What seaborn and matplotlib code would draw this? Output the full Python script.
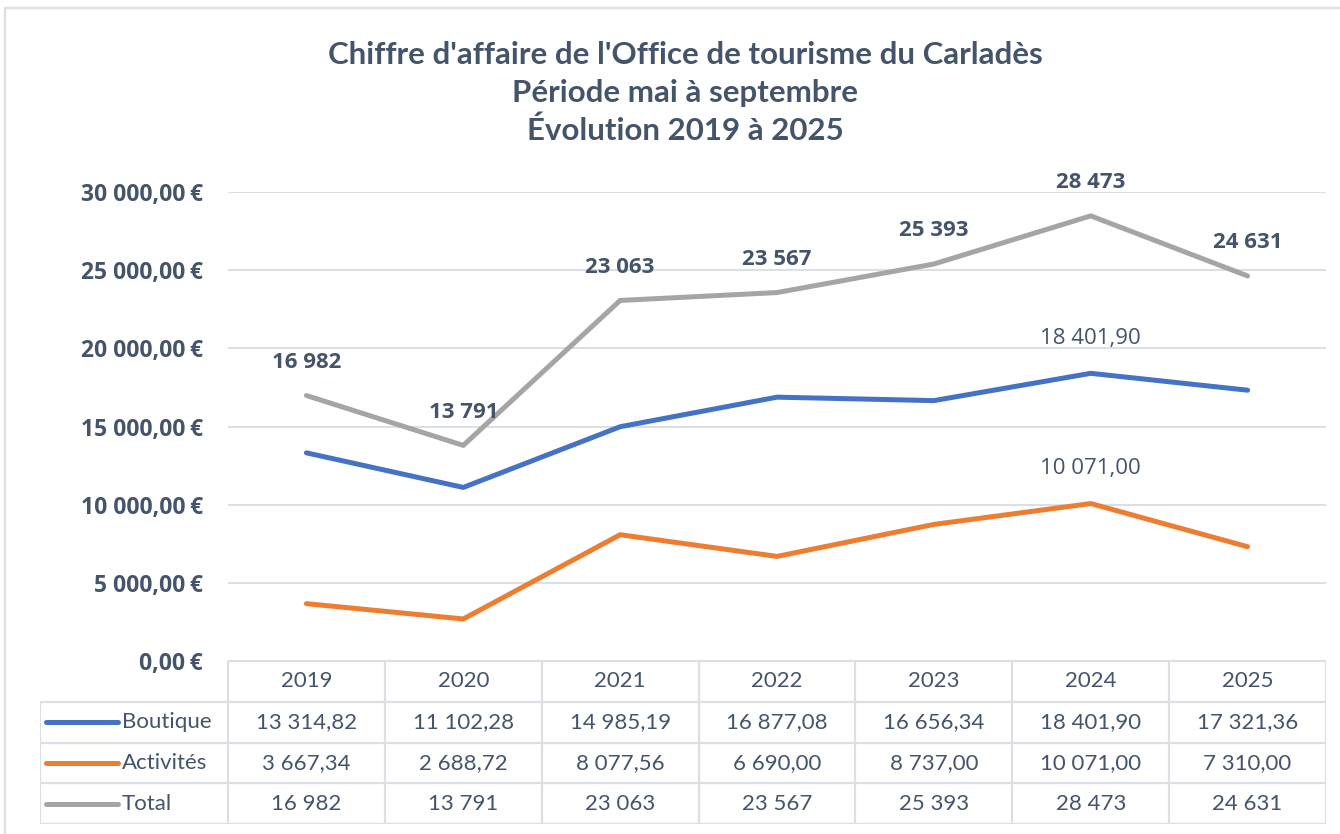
import pandas as pd
import matplotlib.pyplot as plt
import seaborn as sns
from matplotlib.ticker import FuncFormatter
from matplotlib.patches import Rectangle

# data
years = [2019, 2020, 2021, 2022, 2023, 2024, 2025]
boutique = [13314.82, 11102.28, 14985.19, 16877.08, 16656.34, 18401.90, 17321.36]
activites = [3667.34, 2688.72, 8077.56, 6690.00, 8737.00, 10071.00, 7310.00]
total = [16982, 13791, 23063, 23567, 25393, 28473, 24631]
series_names = ['Boutique', 'Activités', 'Total']
colors = ['#4472C4', '#ED7D31', '#A5A5A5']

TXT = '#44546A'
GRID = '#DCE0E6'
SANS = ['Open Sans', 'DejaVu Sans']
NARROW = ['Lato', 'DejaVu Sans']

sns.set_style('white')
plt.rcParams['font.family'] = SANS


def fr(v, dec=2):
    s = f"{v:,.{dec}f}"
    return s.replace(',', ' ').replace('.', ',')


df = pd.DataFrame({'Année': years, 'Boutique': boutique,
                   'Activités': activites, 'Total': total})
long = df.melt(id_vars='Année', var_name='Série', value_name='Montant')

fig = plt.figure(figsize=(13.4, 8.34), dpi=100)
fig.patches.append(Rectangle((5 / 1340, -0.1), 1.2, 1 - 8 / 834 + 0.1,
                             transform=fig.transFigure, fill=False,
                             edgecolor=GRID, linewidth=1.6))

W, H = 1340, 834
ax = fig.add_axes([228 / W, (H - 661) / H, (1326 - 228) / W, (661 - 192) / H])
sns.lineplot(data=long, x='Année', y='Montant', hue='Série',
             hue_order=series_names, palette=colors, linewidth=3.6,
             legend=False, ax=ax, solid_capstyle='round', zorder=3)
ax.set_xlim(years[0] - 0.5, years[-1] + 0.5)
ax.set_ylim(0, 30000)
ax.set_yticks(range(0, 30001, 5000))
ax.yaxis.set_major_formatter(FuncFormatter(lambda v, p: fr(v) + '\u2009€'))
ax.set_xticks([])
ax.grid(axis='y', color=GRID, linewidth=1.4)
ax.tick_params(axis='y', length=0, pad=18, labelsize=16.5, labelcolor=TXT)
for lab in ax.get_yticklabels():
    lab.set_fontweight('bold')
for s in ax.spines.values():
    s.set_visible(False)
ax.set_xlabel('')
ax.set_ylabel('')

# data labels
for x, v in zip(years, total):
    ax.annotate(fr(v, 0), (x, v), xytext=(0, 24), textcoords='offset points',
                ha='center', va='center', fontsize=16, fontweight='bold',
                color=TXT, annotation_clip=False)
i24 = years.index(2024)
for vals in (boutique, activites):
    ax.annotate(fr(vals[i24]), (years[i24], vals[i24]), xytext=(0, 25),
                textcoords='offset points', ha='center', va='center',
                fontsize=16, color=TXT)

# title
fig.text(685 / W, 1 - 93 / H,
         "Chiffre d'affaire de l'Office de tourisme du Carladès\n"
         "Période mai à septembre\nÉvolution 2019 à 2025",
         ha='center', va='center', fontsize=22.5, fontweight='bold',
         color=TXT, family=NARROW, linespacing=1.42)

# data table
left_w = (228 - 40) / ((1326 - 228) / 7)
tab = fig.add_axes([40 / W, (H - 824) / H, (1326 - 40) / W, (824 - 661) / H])
x0 = years[0] - 0.5 - left_w
x1 = years[-1] + 0.5
tab.set_xlim(x0, x1)
tab.set_ylim(4, 0)
tab.axis('off')
lk = dict(color=GRID, linewidth=1.6, solid_capstyle='butt')
tab.plot([years[0] - 0.5, x1], [0, 0], **lk)
for r in range(1, 5):
    tab.plot([x0, x1], [r, r], **lk)
for y in years + [years[-1] + 1]:
    tab.plot([y - 0.5, y - 0.5], [0, 4], **lk)
tab.plot([x0, x0], [1, 4], **lk)

for y in years:
    tab.text(y, 0.5, str(y), ha='center', va='center', fontsize=16,
             color=TXT, family=NARROW)
rows = [[fr(v) for v in boutique], [fr(v) for v in activites],
        [fr(v, 0) for v in total]]
for r, (name, col, vals) in enumerate(zip(series_names, colors, rows), start=1):
    tab.plot([x0 + 0.04, x0 + 0.5], [r + 0.5, r + 0.5], color=col,
             linewidth=3.6, solid_capstyle='round')
    tab.text(x0 + 0.52, r + 0.5, name, ha='left', va='center', fontsize=16,
             color=TXT, family=NARROW)
    for y, t in zip(years, vals):
        tab.text(y, r + 0.5, t, ha='center', va='center', fontsize=16,
                 color=TXT, family=NARROW)

plt.savefig('out.png', dpi=100)
plt.close()
